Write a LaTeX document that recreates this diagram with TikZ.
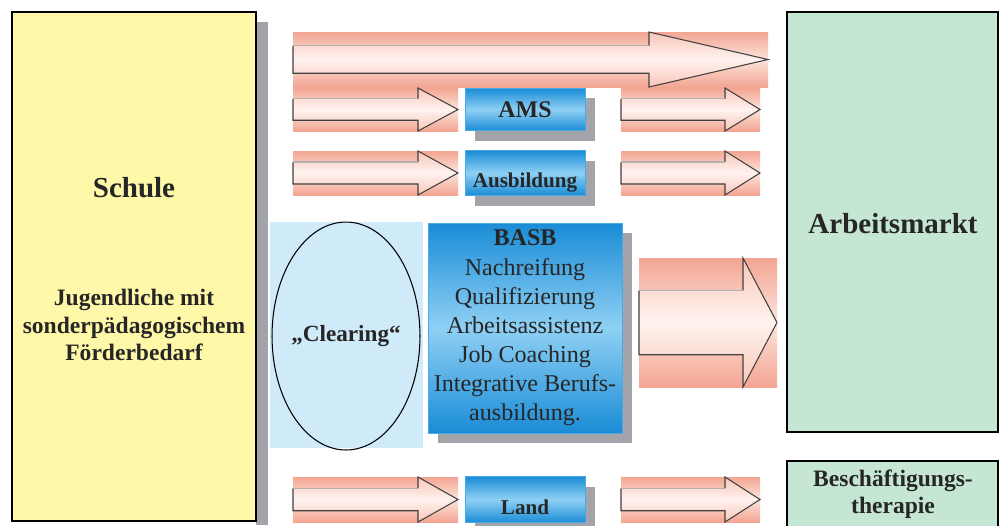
\documentclass[tikz,border=0pt]{standalone}
\usepackage{fontspec}
\setmainfont{Liberation Serif}
\usepackage{xcolor}
\usetikzlibrary{shapes.geometric}
\usetikzlibrary{shadows}

\definecolor{gelb}{HTML}{FFF8A8}
\definecolor{gruen}{HTML}{C5E6D2}
\definecolor{hellblau}{HTML}{CFEAF8}
\definecolor{blaudunkel}{HTML}{1A8CD6}
\definecolor{blauhell}{HTML}{8ED0F4}
\definecolor{blaurand}{HTML}{4AAAE6}
\definecolor{lachs}{HTML}{F3A592}
\definecolor{lachshell}{HTML}{FCE4DC}
\definecolor{pfeilrand}{HTML}{F8C6B8}
\definecolor{pfeilmitte}{HTML}{FFF2EE}
\definecolor{schattengrau}{HTML}{A3A3AA}

\tikzset{
  rahmen/.style={draw=black, line width=0.6pt},
  balken/.style={top color=lachs, bottom color=lachs, middle color=lachshell},
  pfeilfill/.style={top color=pfeilrand, bottom color=pfeilrand, middle color=pfeilmitte},
  pfeillinie/.style={draw=black!75, line width=0.6pt},
  blaubox/.style={draw=blaurand, line width=0.5pt, inner sep=0pt,
    top color=blaudunkel, bottom color=blaudunkel, middle color=blauhell,
    drop shadow={shadow xshift=2mm, shadow yshift=-2mm, fill=schattengrau, opacity=1}},
  titel/.style={font=\bfseries\fontsize{16.5}{20}\selectfont, text=black!85},
  fett/.style={font=\bfseries\fontsize{13.2}{16}\selectfont, align=center, text=black!85}
}

% Blockpfeil mit Band: links, oben, rechts, unten, Spitze
\newcommand{\pfeil}[5]{%
  \pgfmathsetmacro{\pfO}{#2+(#4-#2)/4}
  \pgfmathsetmacro{\pfU}{#4-(#4-#2)/4}
  \pgfmathsetmacro{\pfM}{(#2+#4)/2}
  \shade[balken] (#1,#2) rectangle (#3,#4);
  \shade[pfeilfill] (#1,\pfO) -- (#5,\pfO) -- (#5,#2) -- (#3,\pfM) -- (#5,#4) -- (#5,\pfU) -- (#1,\pfU) -- cycle;
  \draw[pfeillinie] (#5,\pfO) -- (#5,#2) -- (#3,\pfM) -- (#5,#4) -- (#5,\pfU) -- (#1,\pfU) -- (#1,\pfO);
  \draw[pfeillinie, draw=black!30] (#1,\pfO) -- (#5,\pfO);
}

\begin{document}
\begin{tikzpicture}[x=0.02cm, y=-0.02cm]
    \useasboundingbox (0,0) rectangle (1000,525);
    \clip (0,0) rectangle (1000,525);

    % Schule
    \fill[schattengrau] (256,22) rectangle (268,525);
    \draw[rahmen, fill=gelb] (12,12) rectangle (256,521);
    \node[titel] (schule) at (134,188) {Schule};
    \node[fett, font=\bfseries\fontsize{13.4}{15.9}\selectfont] (jugend) at (134,325) {Jugendliche mit\\sonderpädagogischem\\Förderbedarf};

    % Arbeitsmarkt
    \draw[rahmen, fill=gruen] (787,12) rectangle (998,432);
    \node[titel] (arbeitsmarkt) at (893,224) {Arbeitsmarkt};
    \draw[rahmen, fill=gruen] (787,461) rectangle (998,530);
    \node[fett, font=\bfseries\fontsize{13.4}{15.3}\selectfont] (therapie) at (893,494) {Beschäftigungs-\\therapie};

    % Pfeile
    \pfeil{293}{32}{768}{87}{649}
    \pfeil{293}{88}{458}{131}{418}
    \pfeil{621}{88}{760}{131}{725}
    \pfeil{293}{151}{458}{195}{418}
    \pfeil{621}{151}{760}{195}{725}
    \pfeil{639}{258}{777}{387}{743}
    \pfeil{293}{477}{458}{522}{418}
    \pfeil{621}{477}{760}{522}{725}

    % Stellen
    \node[blaubox, minimum width=2.4cm, minimum height=0.85cm, fett, font=\bfseries\fontsize{13.6}{16}\selectfont] (ams) at (525,109.5) {AMS};
    \node[blaubox, minimum width=2.4cm, minimum height=0.9cm, fett, font=\bfseries\fontsize{12}{14}\selectfont,
      text height=16.5pt, text depth=0pt] (ausbildung) at (525,173) {Ausbildung};
    \node[blaubox, minimum width=2.4cm, minimum height=0.92cm, fett, font=\bfseries\fontsize{12}{14}\selectfont,
      text height=17pt, text depth=0pt] (land) at (525,499.5) {Land};

    % Clearing
    \fill[hellblau] (270,222) rectangle (423,448);
    \node[ellipse, rahmen, inner sep=0pt, minimum width=2.96cm, minimum height=4.56cm] (clearing) at (346,336) {};
    \node[fett] (clearingtext) at (clearing.center) {„Clearing“};

    % BASB
    \node[blaubox, minimum width=3.88cm, minimum height=4.2cm, align=center, text=black!85,
      font=\fontsize{13.7}{16.6}\selectfont] (basb) at (525,328)
      {\textbf{BASB}\\Nachreifung\\Qualifizierung\\Arbeitsassistenz\\Job Coaching\\Integrative Berufs-\\ausbildung.};
\end{tikzpicture}
\end{document}
